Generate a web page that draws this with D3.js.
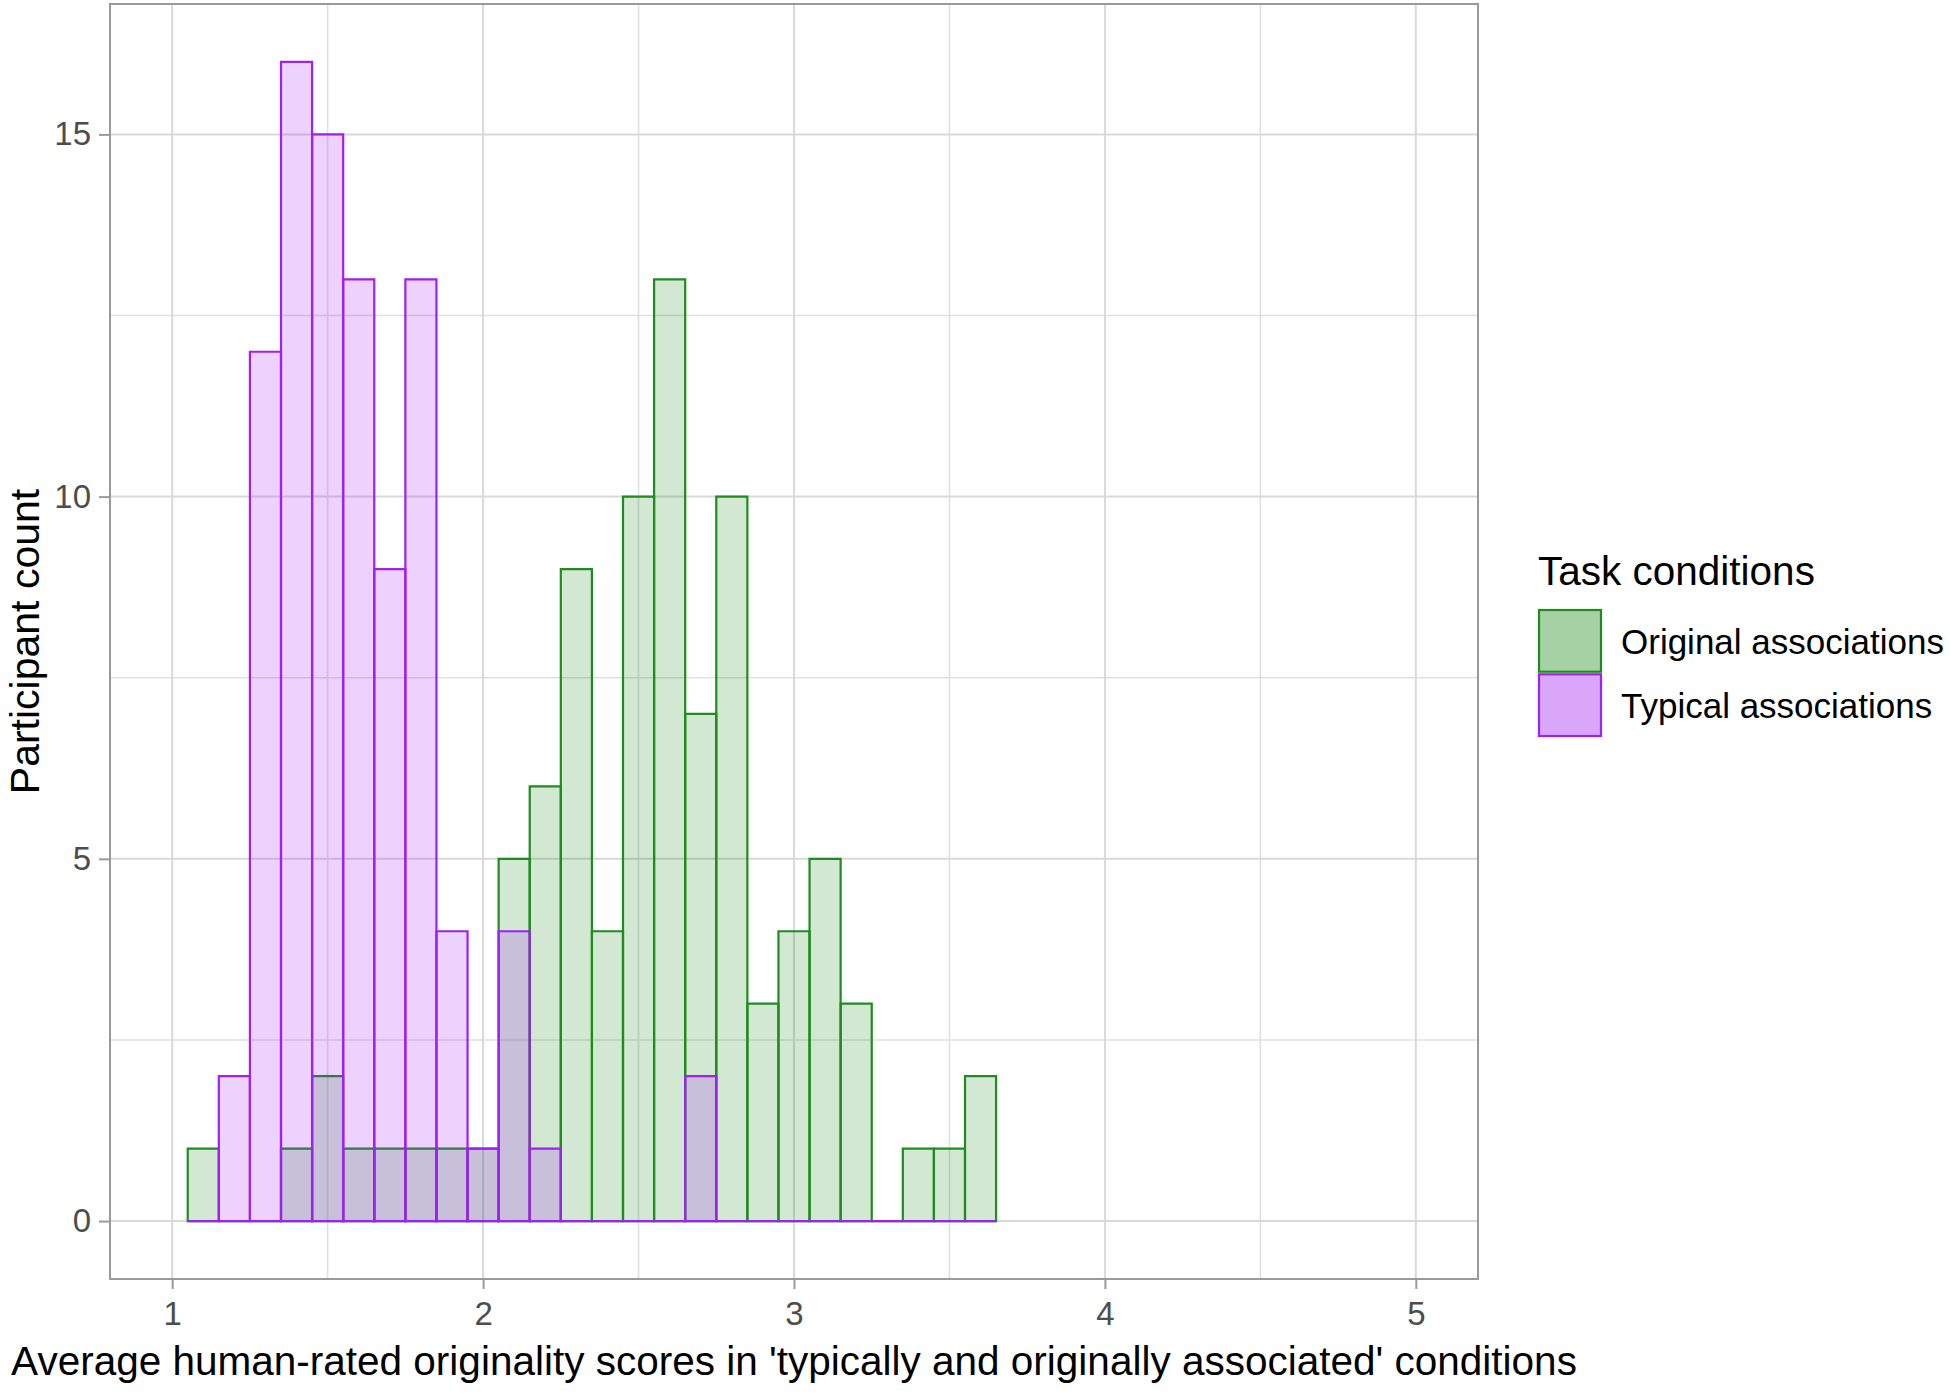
<!DOCTYPE html>
<html>
<head>
<meta charset="utf-8">
<script src="https://cdn.jsdelivr.net/npm/d3@7"></script>
<style>
  body { margin: 0; background: #fff; }
  text { font-family: "Liberation Sans", Arial, sans-serif; }
</style>
</head>
<body>
<svg id="chart" width="1950" height="1393"></svg>
<script>
// histogram of average originality scores, two task conditions overlaid

const binCenters = [1.1, 1.2, 1.3, 1.4, 1.5, 1.6, 1.7, 1.8, 1.9, 2.0, 2.1, 2.2, 2.3,
                    2.4, 2.5, 2.6, 2.7, 2.8, 2.9, 3.0, 3.1, 3.2, 3.3, 3.4, 3.5, 3.6];
const originalCounts = [1, 0, 0, 1, 2, 1, 1, 1, 1, 1, 5, 6, 9,
                        4, 10, 13, 7, 10, 3, 4, 5, 3, 0, 1, 1, 2];
const typicalCounts = [0, 2, 12, 16, 15, 13, 9, 13, 4, 1, 4, 1, 0,
                       0, 0, 0, 2, 0, 0, 0, 0, 0, 0, 0, 0, 0];
const binWidth = 0.1;

const xTicks = [1, 2, 3, 4, 5];
const xMinor = [1.5, 2.5, 3.5, 4.5];
const yTicks = [0, 5, 10, 15];
const yMinor = [2.5, 7.5, 12.5];

const seriesNames = ["Original associations", "Typical associations"];
const seriesColors = ["#1e8c1e", "#a020f0"];

const xTitle = "Average human-rated originality scores in 'typically and originally associated' conditions";
const yTitle = "Participant count";
const legendTitle = "Task conditions";

// panel box
const panel = { left: 110, top: 4, right: 1478, bottom: 1279 };

const svg = d3.select("#chart");
svg.append("rect").attr("width", 1950).attr("height", 1393).attr("fill", "#fff");

const x = d3.scaleLinear().domain([0.8, 5.2]).range([panel.left, panel.right]);
const y = d3.scaleLinear().domain([-0.8, 16.8]).range([panel.bottom, panel.top]);

// grid: minor first, then major
const grid = svg.append("g").attr("class", "grid");
grid.selectAll("line.xminor").data(xMinor).join("line")
    .attr("x1", d => x(d)).attr("x2", d => x(d))
    .attr("y1", panel.top).attr("y2", panel.bottom)
    .attr("stroke", "#e0e0e0").attr("stroke-width", 1.6);
grid.selectAll("line.yminor").data(yMinor).join("line")
    .attr("x1", panel.left).attr("x2", panel.right)
    .attr("y1", d => y(d)).attr("y2", d => y(d))
    .attr("stroke", "#e0e0e0").attr("stroke-width", 1.6);
grid.selectAll("line.xmajor").data(xTicks).join("line")
    .attr("x1", d => x(d)).attr("x2", d => x(d))
    .attr("y1", panel.top).attr("y2", panel.bottom)
    .attr("stroke", "#d9d9d9").attr("stroke-width", 2);
grid.selectAll("line.ymajor").data(yTicks).join("line")
    .attr("x1", panel.left).attr("x2", panel.right)
    .attr("y1", d => y(d)).attr("y2", d => y(d))
    .attr("stroke", "#d9d9d9").attr("stroke-width", 2);

// bars as closed paths so that empty bins still show their outline on the baseline
function barPath(d) {
    const x0 = x(d.c - binWidth / 2), x1 = x(d.c + binWidth / 2);
    const y0 = y(0), y1 = y(d.n);
    return `M${x0},${y0}H${x1}V${y1}H${x0}Z`;
}

// original first, typical drawn over it
const series = [originalCounts, typicalCounts];
series.forEach((counts, si) => {
    svg.append("g").attr("class", "bars-" + si)
        .selectAll("path")
        .data(binCenters.map((c, i) => ({ c: c, n: counts[i] })))
        .join("path")
        .attr("d", barPath)
        .attr("fill", seriesColors[si])
        .attr("fill-opacity", 0.2)
        .attr("stroke", seriesColors[si])
        .attr("stroke-width", 2.2)
        .attr("stroke-linejoin", "miter");
});

// panel border
svg.append("rect")
    .attr("x", panel.left).attr("y", panel.top)
    .attr("width", panel.right - panel.left).attr("height", panel.bottom - panel.top)
    .attr("fill", "none").attr("stroke", "#9a9a9a").attr("stroke-width", 2);

// axes
const xAxis = d3.axisBottom(x).tickValues(xTicks).tickSize(10).tickPadding(8).tickFormat(d3.format("d"));
const yAxis = d3.axisLeft(y).tickValues(yTicks).tickSize(11).tickPadding(8).tickFormat(d3.format("d"));

const gx = svg.append("g").attr("transform", `translate(0,${panel.bottom})`).call(xAxis);
const gy = svg.append("g").attr("transform", `translate(${panel.left},0)`).call(yAxis);
[gx, gy].forEach(g => {
    g.select(".domain").remove();
    g.selectAll(".tick line").attr("stroke", "#9a9a9a").attr("stroke-width", 2);
    g.selectAll(".tick text")
        .attr("fill", "#4d4d4d")
        .style("font-size", "33px")
        .style("font-family", "'Liberation Sans', Arial, sans-serif");
});
gx.selectAll(".tick text").attr("dy", "0.85em");

// axis titles
svg.append("text")
    .attr("x", (panel.left + panel.right) / 2)
    .attr("y", 1375)
    .attr("text-anchor", "middle")
    .attr("font-size", 40.5)
    .attr("fill", "#000")
    .text(xTitle);

svg.append("text")
    .attr("transform", `translate(39,${(panel.top + panel.bottom) / 2}) rotate(-90)`)
    .attr("text-anchor", "middle")
    .attr("font-size", 41)
    .attr("fill", "#000")
    .text(yTitle);

// legend
const legend = svg.append("g").attr("class", "legend");
legend.append("text")
    .attr("x", 1538).attr("y", 585)
    .attr("font-size", 40.5)
    .attr("fill", "#000")
    .text(legendTitle);

const keyY = d3.scaleBand().domain(seriesNames).range([610, 736]).paddingInner(0.04);
const item = legend.selectAll("g.item").data(seriesNames).join("g")
    .attr("class", "item")
    .attr("transform", d => `translate(1539,${keyY(d)})`);
item.append("rect")
    .attr("width", 62).attr("height", keyY.bandwidth())
    .attr("fill", (d, i) => seriesColors[i])
    .attr("fill-opacity", 0.4)
    .attr("stroke", (d, i) => seriesColors[i])
    .attr("stroke-width", 2.2);
item.append("text")
    .attr("x", 82)
    .attr("y", keyY.bandwidth() / 2 + 13)
    .attr("font-size", 35)
    .attr("fill", "#000")
    .text(d => d);
</script>
</body>
</html>
